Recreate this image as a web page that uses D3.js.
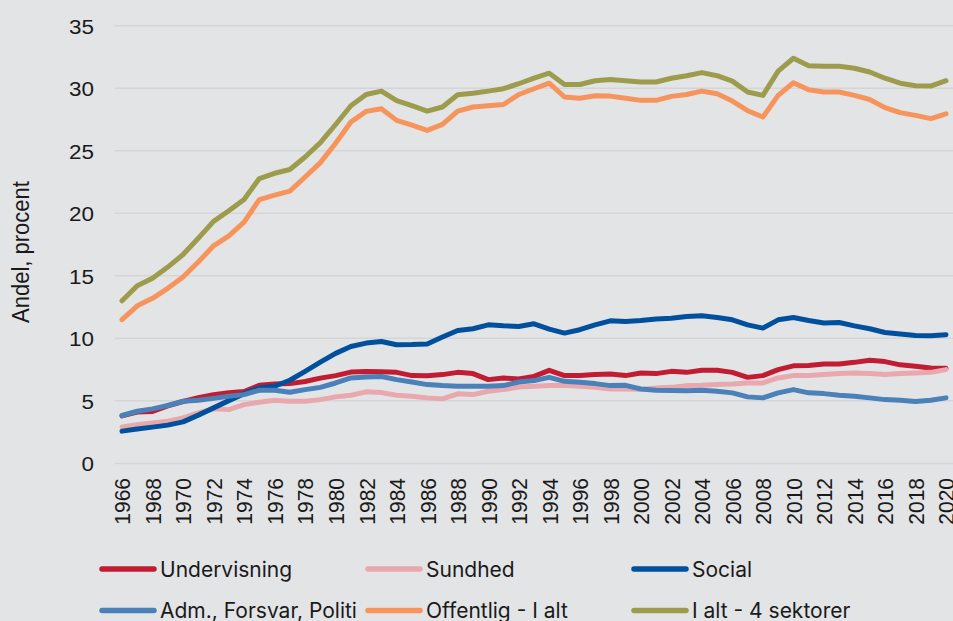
<!DOCTYPE html>
<html>
<head>
<meta charset="utf-8">
<script src="https://cdn.jsdelivr.net/npm/d3@7"></script>
<style>
html,body{margin:0;padding:0;background:#e3e4e6;}
svg{display:block;}
</style>
</head>
<body>
<svg id="chart" width="953" height="621"></svg>
<script>
const years = d3.range(1966, 2021);
const yTicks = [0, 5, 10, 15, 20, 25, 30, 35];
const xTickYears = d3.range(1966, 2021, 2);
const seriesNames = ["Undervisning", "Sundhed", "Social", "Adm., Forsvar, Politi", "Offentlig - I alt", "I alt - 4 sektorer"];
const seriesColors = ["#c21c33", "#e9a8ae", "#01509e", "#4a81b9", "#f7945b", "#9c9c4c"];

const undervisning = [3.8,4.1,4.15,4.6,4.95,5.25,5.5,5.65,5.75,6.25,6.35,6.38,6.55,6.82,7.02,7.3,7.35,7.33,7.28,7.02,7.0,7.1,7.28,7.18,6.7,6.83,6.75,6.96,7.44,7.02,7.02,7.1,7.15,7.02,7.23,7.18,7.36,7.28,7.45,7.45,7.28,6.88,7.02,7.5,7.8,7.82,7.95,7.95,8.08,8.24,8.14,7.88,7.76,7.63,7.6];
const sundhed = [2.92,3.1,3.24,3.37,3.64,4.04,4.36,4.3,4.7,4.89,5.05,4.97,4.97,5.1,5.32,5.45,5.72,5.66,5.45,5.37,5.24,5.16,5.56,5.5,5.77,5.9,6.11,6.16,6.22,6.24,6.16,6.08,5.95,5.95,5.92,6.03,6.08,6.22,6.24,6.3,6.35,6.43,6.43,6.83,7.02,7.02,7.1,7.18,7.23,7.18,7.1,7.18,7.23,7.28,7.5];
const social = [2.58,2.75,2.9,3.06,3.32,3.86,4.44,5.02,5.58,6.03,6.17,6.65,7.36,8.1,8.8,9.35,9.62,9.75,9.49,9.5,9.54,10.1,10.63,10.77,11.08,11.0,10.95,11.16,10.74,10.42,10.69,11.08,11.4,11.35,11.43,11.55,11.6,11.74,11.8,11.67,11.48,11.08,10.82,11.48,11.67,11.43,11.22,11.27,11.0,10.77,10.47,10.34,10.23,10.2,10.29];
const adm = [3.83,4.17,4.36,4.63,4.97,5.05,5.2,5.37,5.5,5.85,5.85,5.69,5.9,6.08,6.43,6.83,6.91,6.95,6.7,6.51,6.3,6.22,6.17,6.17,6.17,6.22,6.51,6.62,6.88,6.56,6.48,6.38,6.22,6.24,5.95,5.85,5.82,5.8,5.85,5.77,5.64,5.32,5.24,5.64,5.9,5.64,5.58,5.45,5.37,5.24,5.1,5.05,4.95,5.05,5.24];
const offentlig = [11.5,12.6,13.2,14.0,14.9,16.1,17.4,18.2,19.3,21.1,21.45,21.77,22.9,24.05,25.6,27.3,28.15,28.36,27.43,27.05,26.63,27.11,28.17,28.5,28.6,28.7,29.5,29.96,30.4,29.3,29.2,29.4,29.37,29.2,29.03,29.03,29.35,29.5,29.77,29.56,28.97,28.2,27.7,29.43,30.44,29.88,29.7,29.7,29.43,29.1,28.45,28.05,27.83,27.57,27.95];
const iAlt = [13.0,14.2,14.8,15.7,16.7,18.0,19.35,20.2,21.1,22.78,23.2,23.5,24.5,25.65,27.1,28.6,29.5,29.77,29.0,28.6,28.17,28.5,29.48,29.6,29.77,29.96,30.36,30.8,31.2,30.3,30.3,30.6,30.7,30.6,30.5,30.5,30.8,31.0,31.25,31.0,30.57,29.7,29.43,31.37,32.4,31.8,31.76,31.76,31.6,31.3,30.8,30.4,30.2,30.17,30.6];

const seriesValues = [undervisning, sundhed, social, adm, offentlig, iAlt];

const svg = d3.select("#chart");
svg.append("rect").attr("width", 953).attr("height", 621).attr("fill", "#e3e4e6");

const x = d3.scaleLinear().domain([1966, 2020]).range([122, 946]);
const y = d3.scaleLinear().domain([0, 35]).range([463.4, 25.7]);

const SX = 1.07;
const axisFont = "'Liberation Sans', Arial, sans-serif";

// gridlines
svg.append("g").selectAll("line").data(yTicks).join("line")
  .attr("x1", 115).attr("x2", 953)
  .attr("y1", d => y(d)).attr("y2", d => y(d))
  .attr("stroke", "#d4d5d7").attr("stroke-width", 1.5);

// y axis
const gy = svg.append("g").attr("transform", "translate(115,0)")
  .call(d3.axisLeft(y).tickValues(yTicks).tickSize(0).tickFormat(d3.format("d")));
gy.select(".domain").remove();
gy.selectAll("text")
  .attr("x", null).attr("dy", "0.35em")
  .attr("transform", `translate(-21,0) scale(${SX},1)`)
  .attr("text-anchor", "end")
  .attr("fill", "#1a1a1a")
  .style("font-family", axisFont).style("font-size", "21px");

// x axis
const gx = svg.append("g").attr("transform", `translate(0,${y(0)})`)
  .call(d3.axisBottom(x).tickValues(xTickYears).tickSize(0).tickFormat(d3.format("d")));
gx.select(".domain").remove();
gx.selectAll("text")
  .attr("y", null).attr("dy", "0.35em")
  .attr("transform", `translate(0,14.6) scale(${SX},1) rotate(-90)`)
  .attr("text-anchor", "end")
  .attr("fill", "#1a1a1a")
  .style("font-family", axisFont).style("font-size", "21px");

// y title
svg.append("text")
  .attr("transform", `translate(21,252) scale(1.05,1) rotate(-90)`)
  .attr("text-anchor", "middle").attr("dy", "0.35em")
  .attr("fill", "#1a1a1a")
  .style("font-family", axisFont).style("font-size", "22px")
  .text("Andel, procent");

// lines
const line = d3.line().x((d, i) => x(years[i])).y(d => y(d));
svg.append("g").selectAll("path").data(seriesValues).join("path")
  .attr("d", d => line(d))
  .attr("fill", "none")
  .attr("stroke", (d, i) => seriesColors[i])
  .attr("stroke-width", 5)
  .attr("stroke-linejoin", "round")
  .attr("stroke-linecap", "round");

// legend
const legX = [100, 366, 632];
const legY = [569, 610.5];
const leg = svg.append("g").selectAll("g").data(seriesNames).join("g")
  .attr("transform", (d, i) => `translate(${legX[i % 3]},${legY[Math.floor(i / 3)]})`);
leg.append("line").attr("x1", 2).attr("x2", 54).attr("y1", 0).attr("y2", 0)
  .attr("stroke", (d, i) => seriesColors[i]).attr("stroke-width", 5.5).attr("stroke-linecap", "round");
leg.append("text").attr("x", 60).attr("y", 7.5)
  .attr("fill", "#1a1a1a")
  .style("font-family", "Inter, 'Noto Sans', sans-serif").style("font-size", "21px")
  .text(d => d);
</script>
</body>
</html>
